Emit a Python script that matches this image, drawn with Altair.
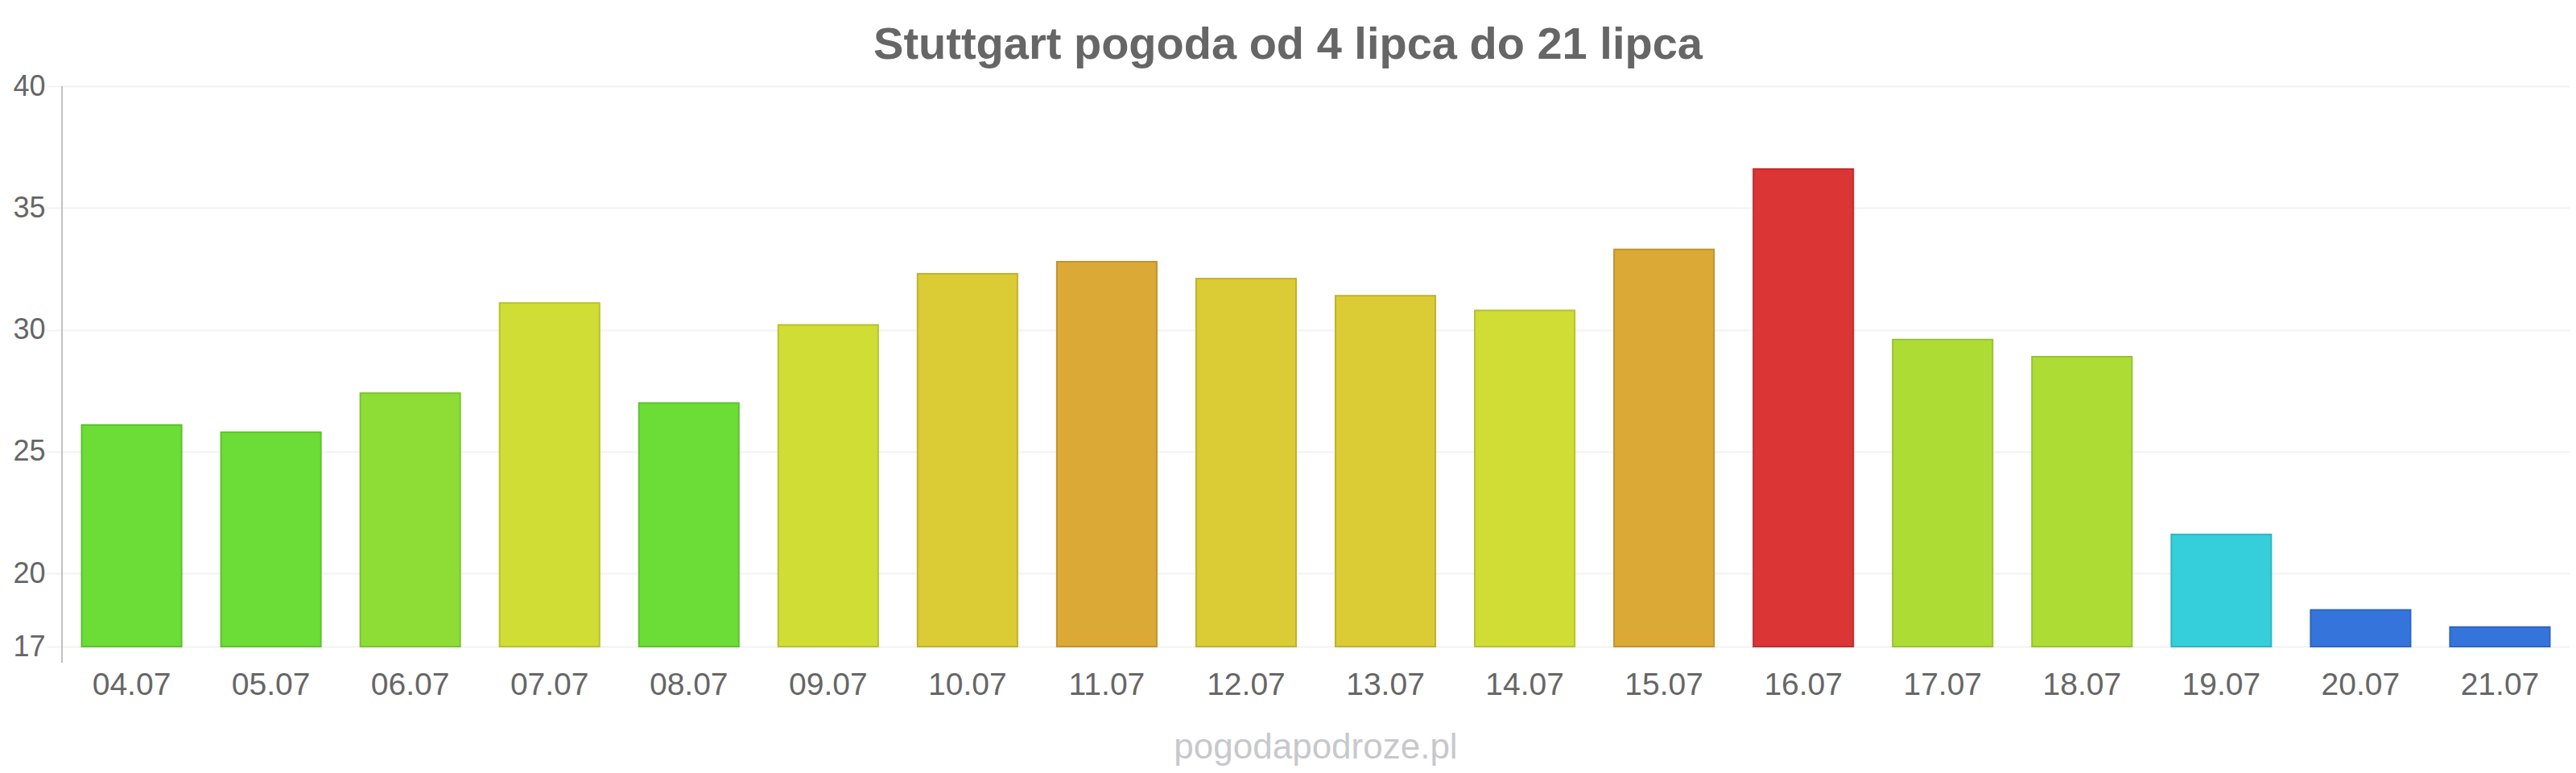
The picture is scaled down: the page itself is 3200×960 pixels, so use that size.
import altair as alt
import pandas as pd

# ---- data ----
dates = ["04.07", "05.07", "06.07", "07.07", "08.07", "09.07", "10.07", "11.07", "12.07",
         "13.07", "14.07", "15.07", "16.07", "17.07", "18.07", "19.07", "20.07", "21.07"]
temps = [26.1, 25.8, 27.4, 31.1, 27.0, 30.2, 32.3, 32.8, 32.1,
         31.4, 30.8, 33.3, 36.6, 29.6, 28.9, 21.6, 18.5, 17.8]
colors = ["#6cdc37", "#6cdc37", "#8edd37", "#cfdd35", "#6cdc37", "#cfdd35", "#dbcb35", "#dba935", "#dbcb35",
          "#dbcb35", "#cfdd35", "#dba935", "#db3535", "#addd35", "#addd35", "#35cfdb", "#3575db", "#3575db"]
y_ticks = [17, 20, 25, 30, 35, 40]
y_min, y_max = 17, 40
title_text = "Stuttgart pogoda od 4 lipca do 21 lipca"
watermark = "pogodapodroze.pl"

FONT = "Liberation Sans"


def darken(hex_color, f=0.88):
    h = hex_color.lstrip("#")
    r, g, b = (int(h[i:i + 2], 16) for i in (0, 2, 4))
    return "#%02x%02x%02x" % (int(r * f), int(g * f), int(b * f))


df = pd.DataFrame({
    "date": dates,
    "temp": temps,
    "base": [y_min] * len(dates),
    "fill": colors,
    "stroke": [darken(c) for c in colors],
})

W, H = 3115, 696
LEFT, TOP = 77, 107

x_enc = alt.X(
    "date:N", sort=dates, title=None,
    scale=alt.Scale(paddingInner=0.283, paddingOuter=0.1415),
    axis=alt.Axis(labelAngle=0, labelFontSize=39, labelColor="#666666", labelFont=FONT,
                  ticks=False, domain=False, grid=False, labelPadding=28),
)
y_enc = alt.Y(
    "temp:Q", title=None,
    scale=alt.Scale(domain=[y_min, y_max], nice=False, zero=False),
    axis=alt.Axis(values=y_ticks, labelFontSize=36, labelColor="#666666", labelFont=FONT,
                  tickSize=20, tickColor="#f2f2f2", tickWidth=2, labelPadding=1,
                  domain=False, gridColor="#f2f2f2", gridWidth=2),
)

bars = alt.Chart(df).mark_bar(strokeWidth=2).encode(
    x=x_enc,
    y=y_enc,
    y2="base",
    fill=alt.Fill("fill:N", scale=None),
    stroke=alt.Stroke("stroke:N", scale=None),
)

axis_line = alt.Chart(pd.DataFrame({"a": [0]})).mark_rule(color="#c0c0c0", strokeWidth=2).encode(
    x=alt.value(0), y=alt.value(0), y2=alt.value(H + 20)
)

title = alt.Chart(pd.DataFrame({"t": [title_text]})).mark_text(
    fontSize=56, fontWeight="bold", color="#666666", font=FONT, baseline="alphabetic", align="center"
).encode(text="t:N", x=alt.value(1600 - LEFT), y=alt.value(73 - TOP))

wm = alt.Chart(pd.DataFrame({"t": [watermark]})).mark_text(
    fontSize=44, color="#c8c8cc", font=FONT, baseline="alphabetic", align="center"
).encode(text="t:N", x=alt.value(W / 2), y=alt.value(835))

chart = alt.layer(axis_line, bars, title, wm).properties(
    width=W, height=H,
    padding={"left": LEFT, "top": TOP, "right": 8, "bottom": 157},
    autosize=alt.AutoSizeParams(type="none"),
    background="white",
).configure_view(stroke=None)

chart.save("out.html", embed_options={"renderer": "svg", "actions": False})
